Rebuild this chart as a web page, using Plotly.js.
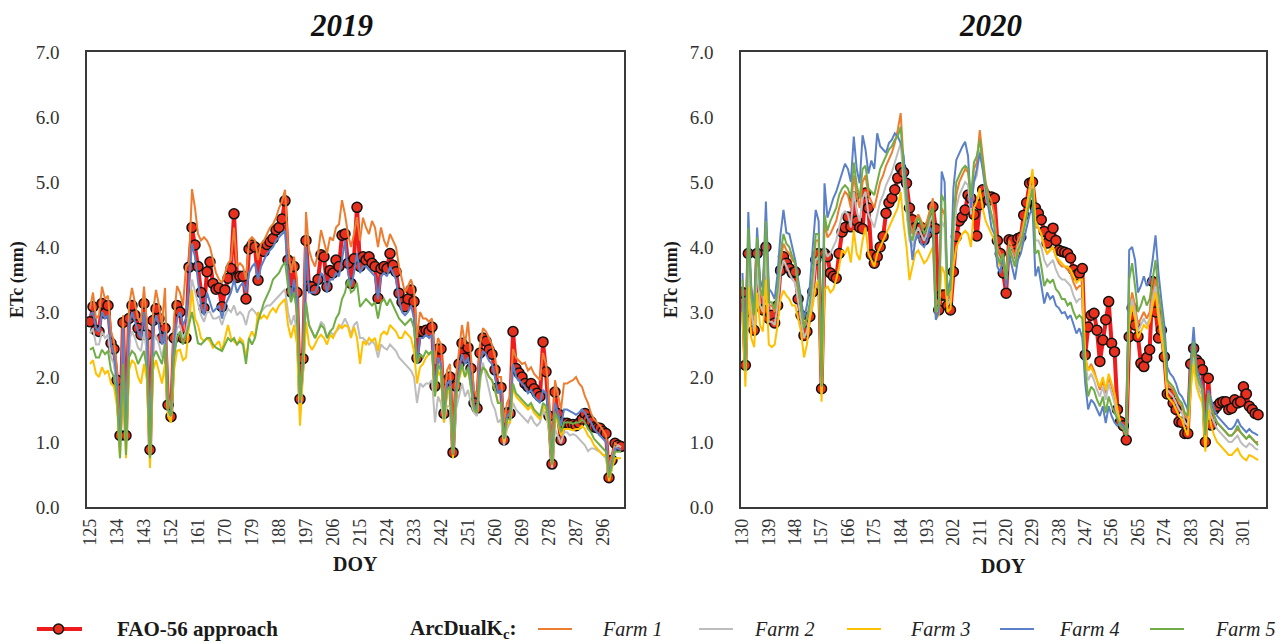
<!DOCTYPE html>
<html>
<head>
<meta charset="utf-8">
<script src="https://cdn.plot.ly/plotly-3.0.1.min.js"></script>
<style>html,body{margin:0;padding:0;background:#fff;}#chart{width:1287px;height:644px;}</style>
</head>
<body>
<div id="chart"></div>
<script>
// ---------- data ----------
const start2019 = 125;
const start2020 = 130;
const ticks2019 = [125,134,143,152,161,170,179,188,197,206,215,224,233,242,251,260,269,278,287,296];
const ticks2020 = [130,139,148,157,166,175,184,193,202,211,220,229,238,247,256,265,274,283,292,301];
const seriesNames = ['Farm 1','Farm 2','Farm 3','Farm 4','Farm 5'];
const farmColors = ['#ED7D31','#BDBDBD','#FFC000','#5B80C8','#70AD47'];

const fao2019 = [
2.85,3.08,2.72,2.70,3.13,2.98,3.10,2.52,2.43,1.95,
1.10,2.84,1.10,2.90,3.10,2.95,2.75,2.65,3.13,2.65,
0.88,2.87,3.05,2.90,2.60,2.75,1.57,1.39,2.60,3.10,
3.00,2.60,2.60,3.69,4.30,4.03,3.70,3.30,3.06,3.62,
3.77,3.44,3.35,3.37,3.08,3.34,3.52,3.67,4.51,3.53,
3.55,3.55,3.20,3.97,4.03,4.00,3.49,3.95,3.93,4.04,
4.08,4.13,4.26,4.30,4.43,4.71,3.80,3.31,3.70,3.30,
1.66,2.28,4.10,3.40,3.39,3.34,3.50,3.88,3.85,3.39,
3.64,3.60,3.80,3.70,4.18,4.20,3.75,3.44,3.82,4.61,
3.70,3.85,3.80,3.85,3.75,3.70,3.21,3.67,3.70,3.67,
3.90,3.72,3.62,3.29,3.15,3.08,3.20,3.34,3.16,2.29,
2.70,2.70,2.72,2.70,2.77,1.86,2.43,2.43,1.44,1.95,
2.00,0.84,1.86,2.20,2.52,2.29,2.45,2.13,1.60,1.52,
2.37,2.60,2.55,2.42,2.35,2.11,1.84,1.84,1.03,1.45,
1.44,2.70,2.13,2.06,2.00,1.90,1.85,1.90,1.82,1.75,
1.70,2.54,2.08,1.40,0.66,1.77,1.44,1.03,1.29,1.29,
1.27,1.27,1.25,1.29,1.35,1.44,1.35,1.31,1.23,1.22,
1.21,1.16,1.13,0.45,0.72,0.98,0.95,0.93];

const farm1_2019 = [
3.05,3.30,2.90,2.95,3.39,3.20,3.25,2.70,2.55,2.10,
1.00,2.95,1.00,3.10,3.37,3.15,2.90,2.85,3.39,2.80,
0.85,3.00,3.34,3.10,2.80,3.37,1.70,1.50,2.90,3.40,
3.30,3.10,3.70,3.75,4.89,4.60,4.20,4.10,4.15,4.10,
4.00,3.80,3.60,3.50,3.45,3.60,3.75,3.80,4.30,3.70,
3.75,3.70,3.50,4.10,4.15,4.10,3.80,4.05,4.10,4.20,
4.30,4.35,4.45,4.60,4.70,4.88,4.00,3.60,3.85,3.50,
1.60,2.40,4.54,3.96,3.80,3.70,3.90,4.26,4.10,3.90,
4.15,4.10,4.30,4.35,4.72,4.50,4.20,4.00,4.20,4.46,
4.10,4.45,4.30,4.20,4.40,4.30,4.00,4.30,4.10,4.00,
4.20,4.10,4.00,3.70,3.50,3.30,3.40,3.50,3.34,2.60,
3.00,2.90,2.90,2.85,2.90,2.20,2.60,2.50,1.60,2.10,
2.20,1.00,2.00,2.40,2.80,2.50,2.85,2.30,1.80,1.70,
2.50,2.75,2.70,2.60,2.50,2.30,2.00,2.00,1.30,1.60,
1.70,2.43,2.30,2.25,2.20,2.22,2.10,2.15,2.05,2.00,
1.95,2.37,2.20,1.70,0.80,1.95,1.75,1.50,1.90,1.90,
1.93,1.95,2.00,1.90,1.85,1.70,1.60,1.44,1.35,1.30,
1.25,1.18,1.10,0.60,0.80,0.98,0.95,0.92];

const farm2_2019 = [
2.67,2.75,2.50,2.50,2.70,2.60,2.65,2.30,2.20,1.80,
0.85,2.50,0.90,2.55,2.70,2.60,2.45,2.40,2.70,2.35,
0.75,2.50,2.65,2.50,2.30,2.55,1.45,1.35,2.40,2.75,
2.80,2.60,2.70,3.00,3.50,3.30,3.10,2.95,2.85,3.00,
3.00,2.90,2.90,2.93,2.80,2.95,3.05,3.00,3.10,2.95,
3.00,2.95,2.80,3.00,3.05,3.00,2.93,3.00,3.06,3.10,
3.10,3.15,3.20,3.25,3.30,3.35,3.00,2.80,2.95,2.70,
1.50,2.10,3.10,2.80,2.70,2.60,2.70,2.85,2.80,2.60,
2.70,2.65,2.70,2.75,2.80,2.90,2.80,2.65,2.80,2.85,
2.60,2.60,2.55,2.50,2.55,2.50,2.30,2.50,2.45,2.42,
2.50,2.45,2.40,2.30,2.25,2.20,2.15,2.10,2.00,1.60,
1.90,1.85,1.90,1.90,1.95,1.30,1.70,1.60,1.30,1.55,
1.55,0.80,1.50,1.70,1.90,1.70,1.80,1.60,1.45,1.40,
1.90,2.22,2.00,1.80,1.60,1.50,1.30,1.35,0.95,1.20,
1.30,1.60,1.50,1.45,1.40,1.35,1.30,1.40,1.30,1.25,
1.30,1.50,1.40,1.20,0.60,1.20,1.10,0.98,1.15,1.15,
1.10,1.12,1.10,1.05,1.00,0.95,0.86,0.90,0.90,0.88,
0.85,0.80,0.75,0.45,0.70,0.90,0.95,0.92];

const farm3_2019 = [
2.20,2.26,2.05,2.00,2.15,2.05,2.10,1.90,1.85,1.55,
0.75,2.00,0.75,2.10,2.26,2.20,2.00,1.90,2.20,1.95,
0.60,2.10,2.26,2.10,1.90,2.20,1.40,1.30,2.10,2.40,
2.42,2.26,2.30,2.80,3.34,2.90,2.80,2.60,2.55,2.60,
2.55,2.45,2.50,2.55,2.40,2.60,2.80,2.60,2.55,2.50,
2.60,2.55,2.30,2.60,2.70,2.60,3.00,2.90,2.95,2.90,
3.00,3.06,3.00,3.10,3.15,3.20,2.80,2.60,2.80,2.50,
1.25,2.00,2.85,2.50,2.42,2.50,2.60,2.65,2.60,2.50,
2.65,2.60,2.70,2.80,2.75,2.80,2.77,2.60,2.77,2.60,
2.20,2.55,2.50,2.60,2.55,2.60,2.40,2.65,2.70,2.65,
2.80,2.75,2.70,2.60,2.60,2.70,2.65,2.60,2.40,1.90,
2.15,2.20,2.30,2.35,2.40,1.70,2.10,2.00,1.30,1.75,
1.80,0.75,1.70,1.95,2.15,2.00,2.10,1.85,1.50,1.45,
2.00,2.15,2.10,2.00,1.95,1.80,1.60,1.60,1.00,1.30,
1.30,1.85,1.70,1.65,1.60,1.55,1.50,1.55,1.45,1.40,
1.35,1.55,1.50,1.25,0.65,1.40,1.30,1.10,1.20,1.20,
1.20,1.18,1.20,1.20,1.25,1.20,1.10,1.05,0.95,0.90,
0.85,0.80,0.80,0.40,0.60,0.75,0.75,0.75];

const farm4_2019 = [
2.95,3.00,2.75,2.70,3.00,2.90,2.95,2.50,2.35,1.90,
0.90,2.75,0.95,2.80,3.00,2.85,2.70,2.60,3.00,2.55,
0.80,2.75,2.95,2.80,2.50,2.70,1.50,1.40,2.55,2.90,
3.00,2.80,2.90,3.44,4.05,3.85,3.50,3.10,2.95,3.30,
3.15,3.00,3.05,3.10,2.90,3.10,3.20,3.30,3.50,3.30,
3.40,3.45,3.30,3.60,3.70,3.75,3.50,3.70,3.80,3.90,
3.95,4.00,4.10,4.15,4.20,4.25,3.60,3.20,3.50,3.20,
1.60,2.20,4.00,3.30,3.30,3.30,3.40,3.60,3.55,3.30,
3.50,3.50,3.60,3.55,3.80,4.10,3.60,3.40,3.60,3.90,
3.60,3.70,3.70,3.65,3.60,3.55,3.20,3.55,3.60,3.55,
3.70,3.60,3.50,3.20,3.00,2.95,3.00,3.10,2.90,2.20,
2.60,2.60,2.65,2.60,2.65,1.80,2.30,2.20,1.40,1.90,
1.95,0.80,1.80,2.10,2.35,2.20,2.30,2.00,1.55,1.50,
2.20,2.40,2.35,2.25,2.20,2.00,1.75,1.80,1.05,1.40,
1.45,2.20,2.00,1.95,1.90,1.85,1.75,1.80,1.70,1.65,
1.60,1.80,1.75,1.40,0.70,1.60,1.45,1.25,1.50,1.50,
1.48,1.45,1.42,1.45,1.50,1.45,1.35,1.30,1.20,1.15,
1.10,1.05,1.00,0.50,0.70,0.90,0.90,0.88];

const farm5_2019 = [
2.42,2.45,2.30,2.30,2.42,2.35,2.40,2.10,2.00,1.70,
0.75,2.20,0.80,2.30,2.40,2.35,2.20,2.30,2.40,2.10,
0.75,2.30,2.40,2.30,2.20,2.50,1.50,1.40,2.30,2.60,
2.70,2.50,2.65,2.80,3.00,2.75,2.52,2.50,2.55,2.60,
2.60,2.50,2.45,2.42,2.40,2.50,2.60,2.55,2.60,2.50,
2.55,2.50,2.20,2.60,2.50,2.60,2.85,3.00,3.15,3.25,
3.35,3.50,3.55,3.60,3.70,3.77,3.40,3.15,3.30,3.00,
1.65,2.30,3.15,2.80,2.70,2.60,2.70,2.80,2.75,2.60,
2.70,2.75,2.90,2.98,3.20,3.30,3.50,3.30,3.34,3.45,
3.08,3.15,3.20,3.15,3.10,3.15,2.90,3.15,3.20,3.10,
3.20,3.10,3.00,2.90,2.85,2.80,2.85,2.90,2.75,2.20,
2.35,2.30,2.40,2.35,2.40,1.70,2.20,2.10,1.35,1.80,
1.85,0.80,1.70,2.00,2.20,2.00,2.15,1.85,1.50,1.45,
2.00,2.15,2.10,2.00,1.95,1.80,1.60,1.60,1.05,1.35,
1.35,1.90,1.75,1.70,1.65,1.60,1.55,1.60,1.50,1.45,
1.40,1.60,1.55,1.30,0.65,1.45,1.35,1.15,1.30,1.30,
1.30,1.28,1.30,1.30,1.35,1.30,1.20,1.15,1.05,1.00,
0.95,0.90,0.85,0.45,0.65,0.85,0.85,0.85];

const fao2020 = [
3.30,2.18,3.90,3.00,2.72,3.90,3.18,3.03,4.00,2.90,
2.95,2.83,3.10,3.64,3.85,3.75,3.67,3.60,3.62,3.20,
2.95,2.64,2.70,2.93,3.31,3.80,3.90,1.82,3.90,3.85,
3.60,3.55,3.52,3.90,4.23,4.30,4.46,4.31,4.77,4.40,
4.30,4.28,4.83,4.60,3.88,3.75,3.85,4.00,4.16,4.52,
4.68,4.75,4.88,5.06,5.22,5.15,4.98,4.60,4.42,4.30,
4.22,4.30,4.11,4.20,4.30,4.62,4.28,3.03,3.26,3.26,
3.10,3.03,3.62,4.16,4.40,4.46,4.57,4.80,4.75,4.50,
4.17,4.65,4.88,4.80,4.72,4.77,4.75,4.10,3.90,3.60,
3.29,4.11,4.10,3.90,4.13,4.15,4.49,4.68,4.98,5.00,
4.60,4.52,4.42,4.24,4.06,4.17,4.29,4.10,3.95,3.93,
3.92,3.90,3.83,3.65,3.57,3.60,3.67,2.34,2.77,2.95,
2.98,2.72,2.24,2.57,2.88,3.16,2.52,2.39,1.50,1.31,
1.25,1.03,2.62,3.06,2.80,2.62,2.21,2.16,2.30,2.42,
3.47,3.00,2.60,2.72,2.31,1.74,1.74,1.60,1.50,1.31,
1.30,1.13,1.13,2.20,2.44,2.26,2.21,2.11,1.00,1.98,
1.26,1.50,1.55,1.60,1.62,1.62,1.50,1.52,1.65,1.60,
1.62,1.85,1.74,1.55,1.50,1.44,1.42];

const farm1_2020 = [
3.40,2.20,4.10,3.20,2.90,4.00,3.30,3.20,4.20,3.10,
3.10,3.00,3.30,3.80,4.05,3.95,3.90,3.80,3.75,3.35,
3.10,2.80,2.90,3.10,3.50,4.10,4.10,1.90,4.40,4.15,
4.20,4.30,4.40,4.60,4.75,4.85,4.80,4.60,5.10,4.80,
4.60,5.00,5.10,4.80,4.70,4.60,4.80,5.00,5.10,5.25,
5.35,5.45,5.60,5.80,6.06,5.30,4.90,4.40,4.20,4.40,
4.50,4.40,4.30,4.40,4.60,4.75,3.20,3.10,4.60,4.50,
3.20,3.30,4.20,4.80,5.00,5.10,5.20,5.15,4.70,5.20,
5.30,5.80,5.40,5.00,4.80,4.70,4.50,4.00,3.90,3.80,
3.60,4.10,4.00,3.85,4.10,4.20,4.40,4.60,4.90,5.10,
4.30,4.30,4.20,4.00,3.90,3.95,4.00,3.85,3.75,3.70,
3.70,3.65,3.60,3.45,3.35,3.40,3.40,2.30,2.10,2.20,
2.10,1.95,1.80,1.95,1.75,2.00,1.85,1.70,1.45,1.30,
1.25,1.15,3.00,3.30,3.10,2.80,2.90,3.00,2.90,3.00,
3.30,3.50,3.10,2.80,2.50,1.90,1.85,1.80,1.70,1.60,
1.55,1.40,1.35,2.00,2.40,2.00,1.90,1.80,1.10,1.70,
1.50,1.40,1.30,1.25,1.20,1.15,1.10,1.10,1.15,1.20,
1.15,1.10,1.05,1.10,1.05,1.00,1.00];

const farm2_2020 = [
3.20,2.10,3.80,3.00,2.70,3.70,3.10,3.00,3.90,2.85,
2.85,2.80,3.10,3.60,3.80,3.70,3.60,3.50,3.45,3.15,
2.90,2.60,2.70,2.95,3.30,3.80,3.85,1.75,4.00,3.85,
3.90,4.00,4.10,4.30,4.50,4.55,4.50,4.30,4.85,4.55,
4.40,4.75,4.85,4.50,4.40,4.30,4.50,4.70,4.80,4.95,
5.05,5.15,5.30,5.45,5.60,5.00,4.60,4.10,4.00,4.20,
4.30,4.20,4.10,4.20,4.40,4.50,3.05,3.00,4.40,4.30,
3.10,3.20,4.10,4.60,4.80,4.90,5.00,4.95,4.50,5.00,
5.10,5.50,5.20,4.80,4.60,4.50,4.30,3.90,3.80,3.80,
3.50,4.00,3.90,3.75,4.00,4.10,4.30,4.50,4.80,4.95,
4.10,4.10,4.00,3.80,3.70,3.75,3.80,3.65,3.55,3.50,
3.50,3.45,3.40,3.25,3.15,3.20,3.20,2.20,1.95,2.05,
1.95,1.80,1.70,1.85,1.65,1.90,1.75,1.60,1.40,1.25,
1.20,1.10,2.90,3.20,3.00,2.70,2.80,2.90,2.80,2.90,
3.20,3.40,3.00,2.70,2.40,1.80,1.75,1.70,1.60,1.50,
1.45,1.30,1.25,1.90,2.30,1.95,1.80,1.70,1.00,1.60,
1.40,1.30,1.20,1.15,1.10,1.05,1.00,1.00,1.05,1.10,
1.00,0.95,0.92,0.98,0.95,0.90,0.88];

const farm3_2020 = [
3.00,1.85,3.40,2.60,2.46,3.30,2.80,2.70,3.50,2.50,
2.46,2.50,2.80,3.20,3.33,3.25,3.20,3.10,3.10,2.90,
2.70,2.30,2.50,2.90,3.10,3.40,3.50,1.62,3.33,3.40,
3.30,3.35,3.50,3.70,3.95,3.90,4.00,3.76,4.26,3.90,
3.80,4.10,4.30,3.90,3.80,3.70,3.90,4.00,4.10,4.20,
4.30,4.40,4.50,4.60,4.85,4.36,4.00,3.49,3.70,3.90,
3.95,3.85,3.75,3.80,3.90,4.00,2.90,2.95,3.70,3.60,
3.00,3.05,3.70,4.00,4.10,4.20,4.25,4.20,4.00,4.60,
4.70,4.90,4.60,4.40,4.30,4.20,4.10,3.80,3.70,3.75,
3.50,3.90,3.85,3.70,3.90,4.00,4.30,4.60,4.90,5.20,
4.40,4.30,4.20,4.00,3.90,3.95,4.00,3.85,3.80,3.75,
3.70,3.70,3.65,3.55,3.45,3.50,3.50,2.30,2.10,2.15,
2.05,1.95,1.85,2.00,1.80,2.05,1.90,1.75,1.50,1.30,
1.25,1.10,2.80,3.10,2.90,2.60,2.70,2.80,2.75,2.85,
3.10,3.30,2.90,2.60,2.30,1.70,1.65,1.60,1.50,1.40,
1.35,1.20,1.10,1.80,2.20,1.85,1.70,1.60,0.85,1.50,
1.25,1.10,1.00,0.95,0.90,0.85,0.80,0.80,0.85,0.90,
0.80,0.75,0.72,0.80,0.78,0.75,0.72];

const farm4_2020 = [
3.60,2.30,4.54,3.40,3.00,4.30,3.50,3.36,4.70,3.36,
3.30,3.20,3.60,4.20,4.57,4.22,4.20,4.00,3.80,3.50,
3.20,2.90,3.10,3.40,4.00,4.57,4.40,2.00,4.98,4.45,
4.60,4.75,4.85,5.00,5.13,5.28,5.20,5.00,5.70,5.20,
4.98,5.72,5.50,5.13,5.33,5.20,5.75,5.55,5.50,5.45,
5.60,5.65,5.75,5.70,5.60,5.40,4.85,4.30,3.80,4.10,
4.20,4.05,4.00,4.10,4.30,4.20,2.88,3.00,5.16,5.00,
3.28,3.50,4.90,5.34,5.45,5.54,5.62,5.40,4.60,5.00,
5.20,5.45,5.20,4.90,4.60,4.30,4.20,3.70,3.60,3.86,
3.38,3.90,3.70,3.50,3.80,3.90,4.10,4.30,4.50,4.60,
3.55,3.70,3.40,3.13,3.30,3.20,3.25,3.10,3.06,2.98,
3.00,2.90,2.95,2.80,2.67,2.75,2.60,1.90,1.50,1.65,
1.60,1.50,1.40,1.55,1.29,1.55,1.40,1.30,1.25,1.30,
1.25,1.10,3.95,4.00,3.80,3.30,3.40,3.55,3.40,3.50,
3.80,4.18,3.60,3.18,2.80,2.15,2.05,2.00,1.90,1.75,
1.70,1.60,1.50,2.20,2.77,2.15,1.98,1.85,1.20,1.80,
1.65,1.50,1.40,1.35,1.30,1.25,1.20,1.20,1.25,1.35,
1.25,1.20,1.15,1.20,1.15,1.13,1.10];

const farm5_2020 = [
3.50,2.10,4.30,3.25,2.95,4.15,3.35,3.25,4.40,3.15,
3.15,3.05,3.35,3.90,4.20,4.05,4.00,3.85,3.75,3.40,
3.10,2.75,2.90,3.15,3.60,4.20,4.20,1.85,4.50,4.25,
4.40,4.50,4.60,4.80,4.90,4.95,4.90,4.75,5.30,4.95,
4.75,5.20,5.25,4.90,4.85,4.80,5.00,5.20,5.30,5.40,
5.50,5.55,5.65,5.70,5.85,5.20,4.70,4.20,4.10,4.35,
4.45,4.35,4.20,4.30,4.50,4.60,3.00,3.10,4.80,4.70,
3.25,3.35,4.40,5.00,5.10,5.20,5.25,5.20,4.75,5.30,
5.40,5.65,5.30,4.95,4.70,4.50,4.30,3.85,3.75,3.90,
3.50,4.00,3.85,3.70,3.95,4.05,4.25,4.45,4.70,4.90,
3.90,3.95,3.70,3.40,3.50,3.45,3.50,3.35,3.30,3.20,
3.20,3.10,3.15,3.00,2.90,2.95,2.90,2.10,1.70,1.85,
1.80,1.65,1.55,1.70,1.45,1.70,1.55,1.45,1.35,1.25,
1.20,1.10,3.50,3.75,3.40,3.00,3.10,3.25,3.10,3.20,
3.50,3.80,3.30,3.00,2.60,1.95,1.90,1.85,1.75,1.65,
1.60,1.45,1.40,2.10,2.55,2.05,1.90,1.80,1.10,1.75,
1.55,1.40,1.30,1.25,1.20,1.15,1.10,1.10,1.15,1.25,
1.15,1.10,1.05,1.10,1.05,1.00,0.95];

// ---------- build ----------
const W = 1287, H = 644;
const fx = p => p / W;
const fy = p => 1 - p / H;
const daysFrom = (s, n) => Array.from({length: n}, (_, i) => s + i);
const x2019 = daysFrom(start2019, fao2019.length);
const x2020 = daysFrom(start2020, fao2020.length);

const farms2019 = [farm1_2019, farm2_2019, farm3_2019, farm4_2019, farm5_2019];
const farms2020 = [farm1_2020, farm2_2020, farm3_2020, farm4_2020, farm5_2020];

const RED = '#EE1C1C';
const traces = [];
function faoTrace(x, y, xa, ya) {
  return {x, y, xaxis: xa, yaxis: ya, type: 'scatter', mode: 'lines+markers', name: 'FAO-56 approach',
    line: {color: RED, width: 4}, marker: {size: 10, color: '#E8301E', line: {color: '#111', width: 1.5}},
    hoverinfo: 'skip'};
}
traces.push(faoTrace(x2019, fao2019, 'x', 'y'));
farms2019.forEach((f, i) => traces.push({x: x2019, y: f, xaxis: 'x', yaxis: 'y', type: 'scatter', mode: 'lines',
  name: seriesNames[i], line: {color: farmColors[i], width: 2}, hoverinfo: 'skip'}));
traces.push(faoTrace(x2020, fao2020, 'x2', 'y2'));
farms2020.forEach((f, i) => traces.push({x: x2020, y: f, xaxis: 'x2', yaxis: 'y2', type: 'scatter', mode: 'lines',
  name: seriesNames[i], line: {color: farmColors[i], width: 2}, hoverinfo: 'skip'}));

const FONT = '"Liberation Serif", "Times New Roman", Times, serif';
const axisCommon = {showline: true, mirror: true, linecolor: '#3a3a3a', linewidth: 1.6, showgrid: false,
  zeroline: false, ticks: '', fixedrange: true};
const xCommon = Object.assign({}, axisCommon, {tickangle: -90, tickfont: {family: FONT, size: 18, color: '#333'},
  ticklabelstandoff: 3});
const yCommon = Object.assign({}, axisCommon, {range: [0, 7], dtick: 1, tick0: 0, tickformat: '.1f',
  tickfont: {family: FONT, size: 19, color: '#333'}, ticklabelstandoff: 22});

const yDom = [fy(507), fy(52)];
const layout = {
  width: W, height: H, margin: {l: 0, r: 0, t: 0, b: 0}, paper_bgcolor: '#fff', plot_bgcolor: '#fff',
  showlegend: false, font: {family: FONT, color: '#222'},
  xaxis: Object.assign({}, xCommon, {domain: [fx(87), fx(624)], range: [124, 303], tickvals: ticks2019, anchor: 'y'}),
  yaxis: Object.assign({}, yCommon, {domain: yDom, anchor: 'x'}),
  xaxis2: Object.assign({}, xCommon, {domain: [fx(741), fx(1266)], range: [129.5, 308.7], tickvals: ticks2020, anchor: 'y2'}),
  yaxis2: Object.assign({}, yCommon, {domain: yDom, anchor: 'x2'}),
  annotations: [], shapes: []
};

function ann(text, x, y, opts) {
  layout.annotations.push(Object.assign({text, x: fx(x), y: fy(y), xref: 'paper', yref: 'paper', showarrow: false,
    xanchor: 'center', yanchor: 'middle', font: {family: FONT, size: 18, color: '#1a1a1a'}}, opts || {}));
}
ann('<b><i>2019</i></b>', 341, 25, {font: {family: FONT, size: 31, color: '#111'}});
ann('<b><i>2020</i></b>', 990, 25, {font: {family: FONT, size: 31, color: '#111'}});
ann('<b>DOY</b>', 355, 564, {font: {family: FONT, size: 20, color: '#1a1a1a'}});
ann('<b>DOY</b>', 1003, 566, {font: {family: FONT, size: 20, color: '#1a1a1a'}});
ann('<b>ETc (mm)</b>', 18, 280, {textangle: -90, font: {family: FONT, size: 18, color: '#1a1a1a'}});
ann('<b>ETc (mm)</b>', 672, 280, {textangle: -90, font: {family: FONT, size: 18, color: '#1a1a1a'}});

// legend
const LY = 629;
layout.shapes.push({type: 'line', xref: 'paper', yref: 'paper', x0: fx(37), x1: fx(82), y0: fy(LY), y1: fy(LY),
  line: {color: RED, width: 4}});
layout.shapes.push({type: 'circle', xref: 'paper', yref: 'paper', x0: fx(53.5), x1: fx(63.5), y0: fy(LY + 5), y1: fy(LY - 5),
  fillcolor: '#E8301E', line: {color: '#111', width: 1.5}});
ann('<b>FAO-56 approach</b>', 115, LY, {xanchor: 'left', font: {family: FONT, size: 21, color: '#1a1a1a'}});
ann('<b>ArcDualK<sub>c</sub>:</b>', 408, LY, {xanchor: 'left', font: {family: FONT, size: 21, color: '#1a1a1a'}});
const legLineX = [538, 699, 847, 1000, 1150];
const legTextX = [600, 752, 908, 1057, 1213];
seriesNames.forEach((n, i) => {
  layout.shapes.push({type: 'line', xref: 'paper', yref: 'paper', x0: fx(legLineX[i]), x1: fx(legLineX[i] + 34),
    y0: fy(LY), y1: fy(LY), line: {color: farmColors[i], width: 2}});
  ann('<i>' + n + '</i>', legTextX[i], LY, {xanchor: 'left', font: {family: FONT, size: 20, color: '#222'}});
});

Plotly.newPlot('chart', traces, layout, {staticPlot: true, displayModeBar: false});
</script>
</body>
</html>
